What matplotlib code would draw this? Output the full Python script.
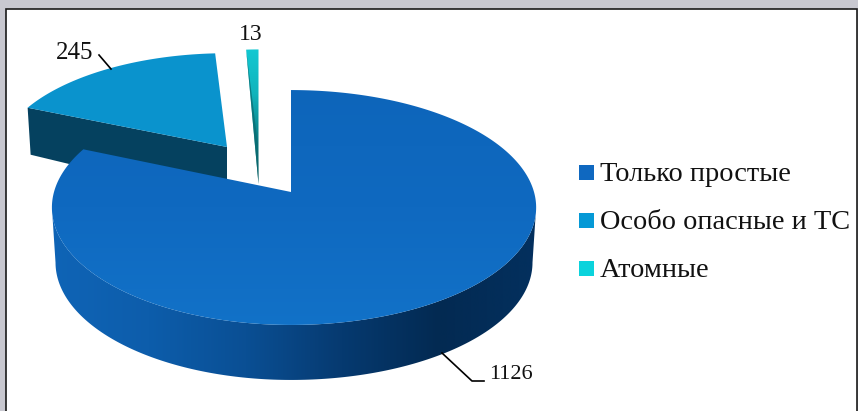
import numpy as np
import matplotlib
matplotlib.use("Agg")
import matplotlib.pyplot as plt
from matplotlib.colors import LinearSegmentedColormap
from matplotlib.patches import Polygon, Rectangle

# данные
labels = ["Только простые", "Особо опасные и ТС", "Атомные"]
values = [1126, 245, 13]
value_text = ["1126", "245", "13"]

W, H = 858, 411
DEPTH = 55
PERSP = 0.132

colors_legend = ["#0f68c0", "#0599d6", "#0bd3dc"]
blue_top = "#0a93cd"
blue_side = "#05415f"


def project(angle_deg, origin=(291, 192), sx=1.0, sy=1.0):
    # точка круга -> экран, с небольшой перспективой
    a = np.radians(angle_deg)
    u = np.cos(a)
    v = np.sin(a)
    k = 1 + PERSP * v
    rx = np.where(u < 0, 237, 243)
    return origin[0] + rx * sx * u / k, origin[1] - 115.4 * sy * v / k


def arc(start, end, n=200, **kw):
    angles = np.linspace(start, end, n)
    x, y = project(angles, **kw)
    return np.column_stack([x, y])


def gradient_fill(ax, poly, stops, extent, zorder, vertical=False):
    cmap = LinearSegmentedColormap.from_list("grad", stops)
    grad = np.linspace(0, 1, 256).reshape(1, -1)
    if vertical:
        grad = grad.T
    im = ax.imshow(grad, cmap=cmap, extent=extent, aspect="auto", origin="upper",
                   zorder=zorder, interpolation="bilinear")
    patch = Polygon(poly, closed=True, transform=ax.transData, fc="none", ec="none")
    ax.add_patch(patch)
    im.set_clip_path(patch)


fig = plt.figure(figsize=(W / 100, H / 100), dpi=100, facecolor="#c8c8d0")
ax = fig.add_axes([0, 0, 1, 1])
ax.add_patch(Rectangle((6, 9), 851, 410, fc="white", ec="#1a1a1a", lw=1.2, zorder=0))

# углы секторов по часовой от 12 часов
sweep = np.array(values) / sum(values) * 360
ends = 90 - np.cumsum(sweep)
starts = ends + sweep

# атомные
o3 = (258.5, 184)
tip = arc(starts[2], ends[2], 20, origin=o3, sy=1.32)
gradient_fill(ax, np.vstack([[o3], tip]), ["#12c8d2", "#10b4bc", "#0a7d84", "#075458"],
              (240, 265, 184, 50), 2, vertical=True)
left = tip[0]
mid = left + 0.7 * (np.array(o3) - left)
ax.add_patch(Polygon([left, mid + (3, 0), o3, mid], closed=True, fc="#0a6a70", ec="none",
                     alpha=0.75, zorder=3))

# особо опасные
o2 = (227, 147)
edge = np.array(project(starts[1], origin=o2, sx=0.96, sy=0.92), dtype=float)
ax.add_patch(Polygon([edge, o2, (o2[0], o2[1] + DEPTH), edge + (3, 47)],
                     closed=True, fc=blue_side, ec="none", zorder=4))
ax.add_patch(Polygon(np.vstack([[o2], arc(starts[1], ends[1], origin=o2, sx=0.96, sy=0.92)]),
                     closed=True, fc=blue_top, ec="none", zorder=5))

# только простые
o1 = (291, 192)
# боковая стенка от самой левой до самой правой точки эллипса
widest = np.degrees(np.arcsin(PERSP))
rim = arc(180 + widest, 360 - widest)
bottom = rim + (0, DEPTH)
bottom[:, 0] = 293 + (bottom[:, 0] - 293) * 0.985
side = np.vstack([rim, bottom[::-1]])
gradient_fill(ax, side, ["#0f64b6", "#0d5dab", "#0a4f94", "#063a70", "#032a52", "#03305e"],
              (52, 536, H, 0), 6)
top = np.vstack([[o1], arc(starts[0], ends[0], 400)])
gradient_fill(ax, top, ["#0d65ba", "#0f69c0", "#1272c8"], (40, 545, 330, 85), 7, vertical=True)

ax.set_xlim(0, W)
ax.set_ylim(H, 0)
ax.axis("off")

# подписи значений
ax.plot([99, 111], [55, 69], color="black", lw=1.2, zorder=8)
ax.plot([442, 472, 484], [353, 381, 381], color="black", lw=1.2, zorder=8)
text_kw = dict(family="Liberation Serif", color="#111111", zorder=9)
ax.text(489, 374, value_text[0], ha="left", va="center", fontsize=16, **text_kw)
ax.text(75, 53, value_text[1], ha="center", va="center", fontsize=18, **text_kw)
ax.text(251, 34, value_text[2], ha="center", va="center", fontsize=17, **text_kw)

# легенда
for i, (name, y) in enumerate(zip(labels, [172.5, 220.5, 268.5])):
    ax.add_patch(Rectangle((579, y - 7.5), 15, 15, fc=colors_legend[i], ec="none", zorder=9))
    ax.text(600, y + 1.5, name, ha="left", va="center", fontsize=20.4, **text_kw)

fig.savefig("out.png", dpi=100, facecolor=fig.get_facecolor())
